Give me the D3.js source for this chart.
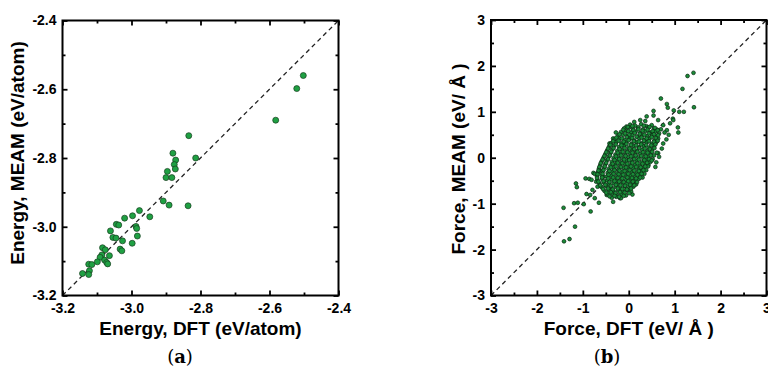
<!DOCTYPE html>
<html><head><meta charset="utf-8">
<script src="https://cdn.jsdelivr.net/npm/d3@7"></script>
<style>
html,body{margin:0;padding:0;background:#fff;}
svg{display:block;}
</style></head>
<body>
<svg id="c" width="768" height="367"></svg>
<script>
// ---------- DATA ----------
// Panel (a): energy, DFT vs MEAM (eV/atom)
const energyDFT  = [-2.502,-2.521,-2.582,-2.834,-2.880,-2.814,-2.872,-2.876,-2.873,-2.896,-2.900,-2.883,-2.908,-2.891,-2.836,-2.977,-2.947,-2.997,-3.020,-3.044,-3.037,-2.987,-2.985,-3.061,-3.054,-3.045,-2.983,-3.026,-2.998,-3.033,-3.028,-3.084,-3.076,-3.064,-3.086,-3.091,-3.078,-3.072,-3.069,-3.099,-3.124,-3.115,-3.122,-3.142,-3.124];
const energyMEAM = [-2.560,-2.598,-2.690,-2.735,-2.786,-2.800,-2.806,-2.819,-2.832,-2.839,-2.857,-2.857,-2.925,-2.937,-2.939,-2.953,-2.971,-2.968,-2.975,-2.993,-2.995,-2.999,-3.005,-3.012,-3.031,-3.033,-3.027,-3.041,-3.048,-3.065,-3.070,-3.061,-3.067,-3.084,-3.082,-3.089,-3.097,-3.104,-3.108,-3.102,-3.109,-3.110,-3.128,-3.136,-3.139];
const ticksA = [-3.2,-3.0,-2.8,-2.6,-2.4];
const tickLabelsA = ["-3.2","-3.0","-2.8","-2.6","-2.4"];
const minorA = [-3.1,-2.9,-2.7,-2.5];

// Panel (b): force, DFT vs MEAM (eV/Å) — scattered outliers
const outlierDFT = [1.28,1.41,1.17,1.42,0.70,0.83,0.85,0.54,0.98,1.10,1.20,0.96,1.07,1.08,0.87,0.75,0.64,-1.42,-1.41,-1.29,-1.17,-1.19,-1.11,-1.15,-1.13,-0.83,-0.98,-0.92,-0.84,-0.74,-0.65,-0.79,-0.94,-0.86,-0.77,-0.81,-0.55,-0.42,-0.34,-0.19,
 -0.74,-0.68,-0.48,-0.34,-0.05,0.25,0.43,0.61,0.83,0.90,0.97,0.75,0.64,0.39,0.25,0.54,-0.12,0.78,0.82,0.72,0.66,0.58,0.60,
 0.12,0.36,-0.62,-0.71,0.70,0.08,-0.28];
const outlierMEAM = [1.78,1.85,1.50,1.10,1.29,1.17,1.09,1.02,1.03,1.00,1.00,0.85,0.66,0.55,0.50,0.31,0.10,-1.09,-1.82,-1.77,-1.50,-0.99,-0.98,-0.56,-0.64,-1.17,-1.01,-0.79,-0.81,-0.88,-0.98,-0.70,-0.45,-0.46,-0.33,-0.48,-0.41,0.31,0.42,-0.88,
 -0.35,-0.63,-0.81,-0.96,-0.70,-0.27,-0.16,0.11,0.60,0.75,0.82,0.71,0.82,0.90,0.82,0.92,0.31,0.55,0.40,0.20,0.02,-0.20,-0.10,
 0.78,0.80,-0.28,-0.52,0.62,-0.80,0.55];
// Panel (b): dense central cloud, estimated point by point
const coreDFT = [
 0.03,0.14,0.27,0.38,0.50,-0.05,
 -0.10,0.01,0.09,0.20,0.31,0.43,0.55,0.62,
 -0.17,-0.06,0.05,0.15,0.25,0.36,0.47,0.58,0.66,
 -0.23,-0.12,-0.02,0.08,0.19,0.29,0.40,0.51,0.61,
 -0.31,-0.20,-0.09,0.02,0.12,0.23,0.34,0.45,0.56,0.64,
 -0.38,-0.27,-0.16,-0.05,0.06,0.17,0.28,0.39,0.50,0.60,
 -0.43,-0.32,-0.21,-0.10,0.00,0.11,0.22,0.33,0.44,0.55,
 -0.47,-0.36,-0.25,-0.14,-0.04,0.07,0.18,0.29,0.40,0.51,
 -0.51,-0.40,-0.29,-0.18,-0.08,0.03,0.14,0.25,0.36,0.47,0.55,
 -0.55,-0.44,-0.33,-0.22,-0.12,-0.01,0.10,0.21,0.32,0.43,0.52,
 -0.59,-0.48,-0.37,-0.26,-0.16,-0.05,0.06,0.17,0.28,0.39,0.47,
 -0.62,-0.51,-0.40,-0.30,-0.19,-0.08,0.02,0.13,0.24,0.35,0.42,
 -0.65,-0.54,-0.44,-0.33,-0.22,-0.11,-0.01,0.10,0.21,0.31,0.38,
 -0.67,-0.57,-0.46,-0.36,-0.25,-0.14,-0.04,0.07,0.17,0.27,0.34,
 -0.69,-0.59,-0.48,-0.38,-0.27,-0.17,-0.06,0.04,0.14,0.24,0.30,
 -0.68,-0.58,-0.47,-0.37,-0.26,-0.16,-0.06,0.04,0.13,0.22,
 -0.64,-0.54,-0.44,-0.33,-0.23,-0.13,-0.03,0.07,0.16,
 -0.59,-0.49,-0.39,-0.29,-0.19,-0.09,0.01,0.10,
 -0.53,-0.43,-0.33,-0.23,-0.13,-0.03,0.05,
 -0.46,-0.36,-0.26,-0.16,-0.06,
 -0.37,-0.27,-0.17,
 -0.02,0.08,0.21,0.33,0.45,0.57,
 -0.12,-0.01,0.10,0.21,0.30,0.41,0.52,0.63,
 -0.20,-0.08,0.01,0.13,0.24,0.34,0.44,0.55,0.64,
 -0.27,-0.15,-0.04,0.07,0.17,0.28,0.39,0.50,0.59,
 -0.34,-0.22,-0.11,0.00,0.11,0.22,0.33,0.44,0.55,0.63,
 -0.40,-0.28,-0.16,-0.05,0.05,0.16,0.27,0.38,0.49,0.58,
 -0.45,-0.33,-0.20,-0.09,0.02,0.12,0.23,0.35,0.46,0.56,
 -0.49,-0.38,-0.24,-0.13,-0.03,0.08,0.19,0.31,0.41,0.51,
 -0.53,-0.41,-0.28,-0.17,-0.07,0.05,0.15,0.27,0.37,0.48,
 -0.57,-0.45,-0.31,-0.21,-0.10,0.01,0.12,0.22,0.34,0.44,0.50,
 -0.61,-0.49,-0.35,-0.24,-0.14,-0.03,0.08,0.19,0.30,0.40,
 -0.64,-0.52,-0.39,-0.28,-0.17,-0.06,0.05,0.16,0.26,0.36,
 -0.66,-0.55,-0.42,-0.31,-0.20,-0.09,0.02,0.12,0.22,0.32,
 -0.68,-0.57,-0.44,-0.33,-0.22,-0.12,-0.01,0.09,0.19,0.28,
 -0.69,-0.58,-0.45,-0.34,-0.24,-0.14,-0.03,0.07,0.16,0.25,
 -0.66,-0.55,-0.42,-0.31,-0.21,-0.11,-0.01,0.09,0.18,
 -0.62,-0.51,-0.39,-0.28,-0.18,-0.08,0.03,0.12,
 -0.56,-0.45,-0.35,-0.24,-0.14,-0.04,0.05,
 -0.49,-0.39,-0.29,-0.19,-0.09,0.01,
 -0.42,-0.31,-0.21,-0.11];
const coreMEAM = [
 0.72,0.70,0.73,0.69,0.71,0.68,
 0.64,0.66,0.63,0.65,0.62,0.66,0.64,0.61,
 0.56,0.58,0.55,0.57,0.54,0.58,0.55,0.57,0.53,
 0.48,0.50,0.47,0.49,0.46,0.50,0.47,0.49,0.46,
 0.40,0.42,0.39,0.41,0.38,0.42,0.39,0.41,0.38,0.42,
 0.32,0.34,0.31,0.33,0.30,0.34,0.31,0.33,0.30,0.34,
 0.24,0.26,0.23,0.25,0.22,0.26,0.23,0.25,0.22,0.26,
 0.16,0.18,0.15,0.17,0.14,0.18,0.15,0.17,0.14,0.18,
 0.08,0.10,0.07,0.09,0.06,0.10,0.07,0.09,0.06,0.10,0.05,
 0.00,0.02,-0.01,0.01,-0.02,0.02,-0.01,0.01,-0.02,0.02,-0.03,
 -0.08,-0.06,-0.09,-0.07,-0.10,-0.06,-0.09,-0.07,-0.10,-0.06,-0.09,
 -0.16,-0.14,-0.17,-0.15,-0.18,-0.14,-0.17,-0.15,-0.18,-0.14,-0.19,
 -0.24,-0.22,-0.25,-0.23,-0.26,-0.22,-0.25,-0.23,-0.26,-0.22,-0.27,
 -0.32,-0.30,-0.33,-0.31,-0.34,-0.30,-0.33,-0.31,-0.34,-0.30,-0.35,
 -0.40,-0.38,-0.41,-0.39,-0.42,-0.38,-0.41,-0.39,-0.42,-0.38,-0.43,
 -0.48,-0.46,-0.49,-0.47,-0.50,-0.46,-0.49,-0.47,-0.50,-0.46,
 -0.56,-0.54,-0.57,-0.55,-0.58,-0.54,-0.57,-0.55,-0.58,
 -0.64,-0.62,-0.65,-0.63,-0.66,-0.62,-0.65,-0.63,
 -0.72,-0.70,-0.73,-0.71,-0.74,-0.70,-0.73,
 -0.80,-0.78,-0.81,-0.79,-0.82,
 -0.87,-0.85,-0.88,
 0.67,0.69,0.66,0.70,0.67,0.65,
 0.61,0.58,0.60,0.62,0.59,0.61,0.58,0.60,
 0.51,0.53,0.50,0.54,0.52,0.50,0.53,0.51,0.49,
 0.44,0.42,0.45,0.43,0.46,0.44,0.42,0.45,0.43,
 0.36,0.37,0.35,0.38,0.36,0.35,0.37,0.36,0.35,0.37,
 0.28,0.29,0.27,0.30,0.28,0.27,0.29,0.28,0.27,0.29,
 0.20,0.21,0.19,0.21,0.20,0.19,0.21,0.20,0.19,0.21,
 0.12,0.13,0.11,0.13,0.12,0.11,0.13,0.12,0.11,0.13,
 0.04,0.05,0.03,0.05,0.04,0.03,0.05,0.04,0.03,0.05,
 -0.04,-0.03,-0.05,-0.03,-0.04,-0.05,-0.03,-0.04,-0.05,-0.03,-0.06,
 -0.12,-0.11,-0.13,-0.11,-0.12,-0.13,-0.11,-0.12,-0.13,-0.11,
 -0.20,-0.19,-0.21,-0.19,-0.20,-0.21,-0.19,-0.20,-0.21,-0.19,
 -0.28,-0.27,-0.29,-0.27,-0.28,-0.29,-0.27,-0.28,-0.29,-0.27,
 -0.36,-0.35,-0.37,-0.35,-0.36,-0.37,-0.35,-0.36,-0.37,-0.35,
 -0.44,-0.43,-0.45,-0.43,-0.44,-0.45,-0.43,-0.44,-0.45,-0.43,
 -0.52,-0.51,-0.53,-0.51,-0.52,-0.53,-0.51,-0.52,-0.53,
 -0.60,-0.59,-0.61,-0.59,-0.60,-0.61,-0.59,-0.60,
 -0.68,-0.67,-0.69,-0.67,-0.68,-0.69,-0.67,
 -0.76,-0.75,-0.77,-0.75,-0.76,-0.77,
 -0.84,-0.83,-0.85,-0.83];
const ticksB = [-3,-2,-1,0,1,2,3];
const tickLabelsB = ["-3","-2","-1","0","1","2","3"];
const minorB = [-2.5,-1.5,-0.5,0.5,1.5,2.5];

// ---------- DRAW ----------
const svg = d3.select("#c");
const FONT = "'Liberation Sans', Arial, sans-serif";

function panel(cfg){
  const x = d3.scaleLinear().domain(cfg.domain).range([cfg.left, cfg.right]);
  const y = d3.scaleLinear().domain(cfg.domain).range([cfg.bottom, cfg.top]);
  const g = svg.append("g");
  const clipId = "clip" + cfg.id;
  svg.append("clipPath").attr("id", clipId).append("rect")
    .attr("x", cfg.left).attr("y", cfg.top)
    .attr("width", cfg.right - cfg.left).attr("height", cfg.bottom - cfg.top);

  // diagonal
  g.append("line").attr("clip-path", `url(#${clipId})`)
    .attr("x1", x(cfg.domain[0])).attr("y1", y(cfg.domain[0]))
    .attr("x2", x(cfg.domain[1])).attr("y2", y(cfg.domain[1]))
    .attr("stroke", "#222").attr("stroke-width", 1.3).attr("stroke-dasharray", "4.5,3.5");

  // points
  g.append("g").attr("clip-path", `url(#${clipId})`).selectAll("circle")
    .data(cfg.xs.map((v,i)=>[v, cfg.ys[i]])).join("circle")
    .attr("cx", d=>x(d[0])).attr("cy", d=>y(d[1])).attr("r", cfg.r)
    .attr("fill", cfg.fill).attr("stroke", cfg.stroke).attr("stroke-width", cfg.sw);

  const fmt = (d)=> cfg.labels[cfg.ticks.indexOf(d)];
  const mk = (gen, tr, vals, size, lab, pad) => {
    const ax = gen.tickValues(vals).tickSize(-size).tickSizeOuter(0).tickPadding(pad || 6);
    ax.tickFormat(lab ? fmt : ()=>"");
    const a = g.append("g").attr("transform", tr).call(ax);
    a.select(".domain").remove();
    a.selectAll(".tick line").attr("stroke", "#000").attr("stroke-width", 1.8);
    a.selectAll("text").attr("font-family", FONT).attr("font-weight", "bold")
      .attr("font-size", 14).attr("fill", "#000");
    return a;
  };
  // major
  mk(d3.axisBottom(x), `translate(0,${cfg.bottom})`, cfg.ticks, 5, true, 8);
  mk(d3.axisLeft(y), `translate(${cfg.left},0)`, cfg.ticks, 5, true, 6);
  mk(d3.axisTop(x), `translate(0,${cfg.top})`, cfg.ticks, 5, false);
  mk(d3.axisRight(y), `translate(${cfg.right},0)`, cfg.ticks, 5, false);
  // minor
  mk(d3.axisBottom(x), `translate(0,${cfg.bottom})`, cfg.minor, 3, false);
  mk(d3.axisLeft(y), `translate(${cfg.left},0)`, cfg.minor, 3, false);
  mk(d3.axisTop(x), `translate(0,${cfg.top})`, cfg.minor, 3, false);
  mk(d3.axisRight(y), `translate(${cfg.right},0)`, cfg.minor, 3, false);

  // frame
  g.append("rect").attr("x", cfg.left).attr("y", cfg.top)
    .attr("width", cfg.right - cfg.left).attr("height", cfg.bottom - cfg.top)
    .attr("fill", "none").attr("stroke", "#000").attr("stroke-width", 2);

  // titles
  g.append("text").attr("x", (cfg.left + cfg.right)/2).attr("y", 335)
    .attr("text-anchor", "middle").attr("font-family", FONT).attr("font-weight", "bold")
    .attr("font-size", 19).text(cfg.xTitle);
  g.append("text").attr("transform", `translate(${cfg.yTitleX},${cfg.yTitleY}) rotate(-90)`)
    .attr("text-anchor", "middle").attr("font-family", FONT).attr("font-weight", "bold")
    .attr("font-size", 19).text(cfg.yTitle);
  const cap = g.append("text").attr("x", cfg.capX).attr("y", 363).attr("text-anchor", "middle")
    .attr("font-family", "'DejaVu Serif', 'Liberation Serif', serif").attr("font-size", 18);
  cap.append("tspan").text("(");
  cap.append("tspan").attr("font-weight", "bold").text(cfg.cap);
  cap.append("tspan").text(")");
}

panel({id:"a", domain:[-3.2,-2.4], left:62.5, right:338.5, top:20.5, bottom:295.5,
  xs:energyDFT, ys:energyMEAM, r:3, fill:"#1fa043", stroke:"#173d1e", sw:0.7,
  ticks:ticksA, labels:tickLabelsA, minor:minorA,
  xTitle:"Energy, DFT (eV/atom)", yTitle:"Energy, MEAM (eV/atom)", yTitleX:24, yTitleY:153,
  cap:"a", capX:180});
panel({id:"b", domain:[-3,3], left:491, right:766.5, top:20, bottom:295.5,
  xs:outlierDFT.concat(coreDFT), ys:outlierMEAM.concat(coreMEAM), r:1.9, fill:"#1a8c38", stroke:"#0b2812", sw:0.7,
  ticks:ticksB, labels:tickLabelsB, minor:minorB,
  xTitle:"Force, DFT (eV/ Å )", yTitle:"Force, MEAM (eV/ Å )", yTitleX:465, yTitleY:159,
  cap:"b", capX:607});
</script>
</body></html>
